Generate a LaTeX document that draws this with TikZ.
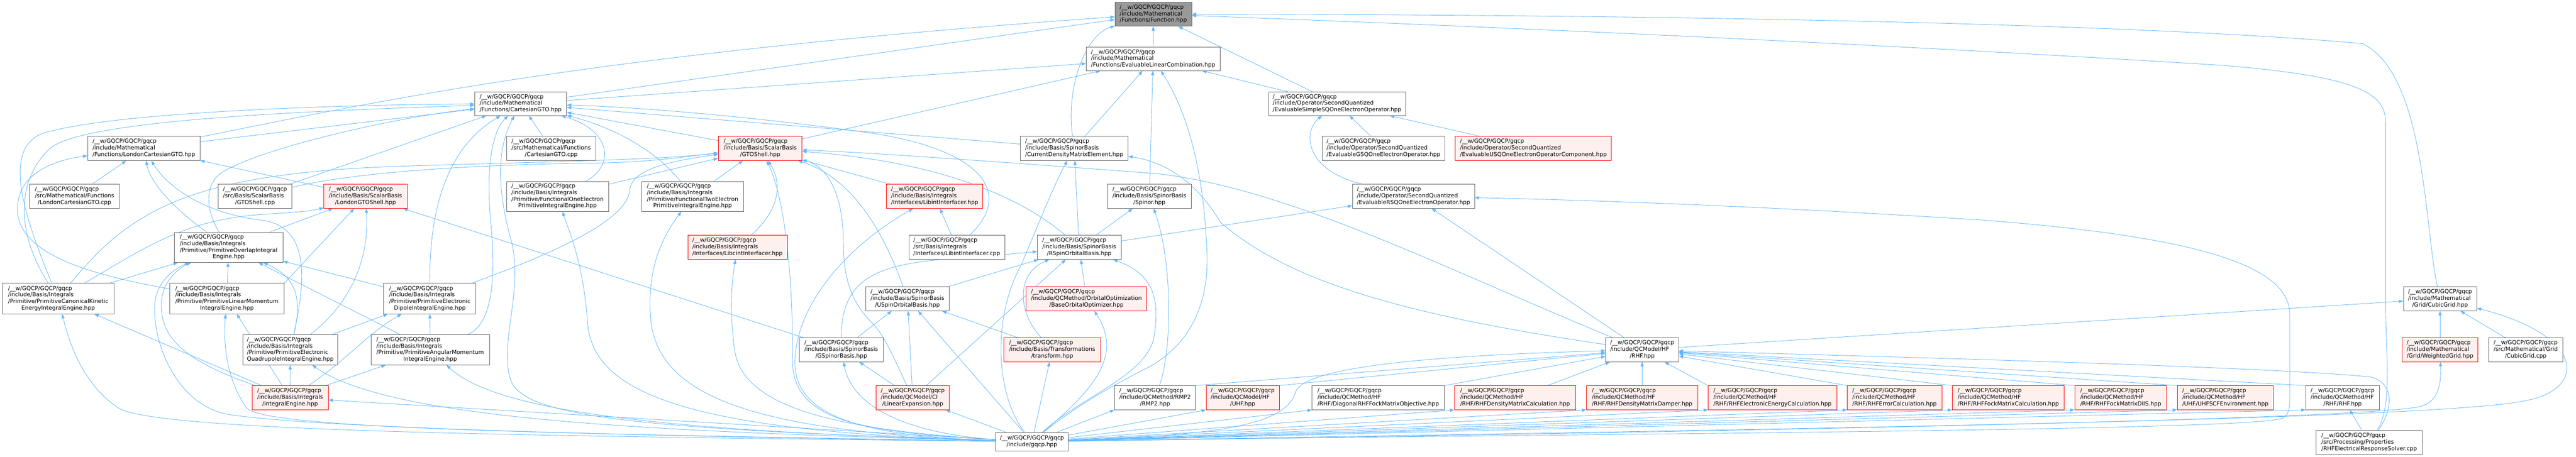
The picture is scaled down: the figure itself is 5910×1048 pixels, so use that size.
\documentclass[tikz,border=0pt]{standalone}
\usepackage{fontspec}
\setmainfont{DejaVu Sans}
\usetikzlibrary{arrows.meta}
\definecolor{ecol}{HTML}{63B8FF}
\definecolor{bcol}{HTML}{666666}
\definecolor{rfill}{HTML}{FFF0F0}
\definecolor{rbord}{HTML}{FF0000}
\definecolor{rootfill}{HTML}{999999}
\pgfdeclarelayer{bgfill}
\pgfdeclarelayer{edges}
\pgfsetlayers{bgfill,edges,main}
\newcommand\pre{/\_\_w/GQCP/GQCP/gqcp}
\newcommand\Ltwo[1]{\begin{tabular}{@{}l@{}}\pre\\\multicolumn{1}{@{}c@{}}{#1}\end{tabular}}
\newcommand\Lthree[2]{\begin{tabular}{@{}l@{}}\pre\\#1\\\multicolumn{1}{@{}c@{}}{#2}\end{tabular}}
\newcommand\Lfour[3]{\begin{tabular}{@{}l@{}}\pre\\#1\\#2\\\multicolumn{1}{@{}c@{}}{#3}\end{tabular}}
\newcommand\gnode[7]{\node[#2,minimum width=#5*0.75pt,minimum height=#6*0.75pt] (#1) at (#3,#4) {#7};}
\tikzset{
  box/.style={draw=bcol,fill=white,line width=0.75pt,inner sep=0pt,font=\fontsize{9.7}{11.25}\selectfont,text=black},
  nd/.style={box},
  rd/.style={box,draw=rbord,fill=rfill},
  root/.style={box,fill=rootfill},
  e/.style={draw=ecol,line width=0.75pt,-{Triangle[length=7.5pt,width=5.5pt]}}
}
\begin{document}
\begin{tikzpicture}[x=0.75pt,y=-0.75pt]
\useasboundingbox (0,0) rectangle (5910,1048);
\begin{pgfonlayer}{bgfill}
\fill[white] (0,0) rectangle (5910,1048);
\end{pgfonlayer}
% row 1-3
\gnode{F}{root}{2646}{32.5}{176}{55}{\Lthree{/include/Mathematical}{/Functions/Function.hpp}}
\gnode{ELC}{nd}{2645.5}{135}{307}{54}{\Lthree{/include/Mathematical}{/Functions/EvaluableLinearCombination.hpp}}
\gnode{CG}{nd}{1194.5}{238}{211}{54}{\Lthree{/include/Mathematical}{/Functions/CartesianGTO.hpp}}
\gnode{ESS}{nd}{3067.5}{238}{315}{54}{\Lthree{/include/Operator/SecondQuantized}{/EvaluableSimpleSQOneElectronOperator.hpp}}
% row 4
\gnode{LCG}{nd}{330}{340.5}{258}{55}{\Lthree{/include/Mathematical}{/Functions/LondonCartesianGTO.hpp}}
\gnode{CGcpp}{nd}{1264.5}{340.5}{205}{55}{\Lthree{/src/Mathematical/Functions}{/CartesianGTO.cpp}}
\gnode{GS}{rd}{1744}{340.5}{192}{55}{\Lthree{/include/Basis/ScalarBasis}{/GTOShell.hpp}}
\gnode{CDM}{nd}{2464.5}{340.5}{247}{55}{\Lthree{/include/Basis/SpinorBasis}{/CurrentDensityMatrixElement.hpp}}
\gnode{EGS}{nd}{3174}{340.5}{282}{55}{\Lthree{/include/Operator/SecondQuantized}{/EvaluableGSQOneElectronOperator.hpp}}
\gnode{EUS}{rd}{3518}{340.5}{358}{55}{\Lthree{/include/Operator/SecondQuantized}{/EvaluableUSQOneElectronOperatorComponent.hpp}}
% row 5
\gnode{LCGcpp}{nd}{171}{450.5}{206}{55}{\Lthree{/src/Mathematical/Functions}{/LondonCartesianGTO.cpp}}
\gnode{GScpp}{nd}{585}{450.5}{168}{55}{\Lthree{/src/Basis/ScalarBasis}{/GTOShell.cpp}}
\gnode{LGS}{rd}{838.5}{450.5}{191}{55}{\Lthree{/include/Basis/ScalarBasis}{/LondonGTOShell.hpp}}
\gnode{F1E}{nd}{1279}{450.5}{234}{69}{\Lfour{/include/Basis/Integrals}{/Primitive/FunctionalOneElectron}{PrimitiveIntegralEngine.hpp}}
\gnode{F2E}{nd}{1589}{450.5}{234}{69}{\Lfour{/include/Basis/Integrals}{/Primitive/FunctionalTwoElectron}{PrimitiveIntegralEngine.hpp}}
\gnode{LI}{rd}{2144.5}{450.5}{221}{55}{\Lthree{/include/Basis/Integrals}{/Interfaces/LibintInterfacer.hpp}}
\gnode{SP}{nd}{2637}{450.5}{192}{55}{\Lthree{/include/Basis/SpinorBasis}{/Spinor.hpp}}
\gnode{ERS}{nd}{3243}{450.5}{280}{55}{\Lthree{/include/Operator/SecondQuantized}{/EvaluableRSQOneElectronOperator.hpp}}
% row 6
\gnode{POV}{nd}{524.5}{567.5}{249}{69}{\Lfour{/include/Basis/Integrals}{/Primitive/PrimitiveOverlapIntegral}{Engine.hpp}}
\gnode{LC}{rd}{1692}{567.5}{228}{55}{\Lthree{/include/Basis/Integrals}{/Interfaces/LibcintInterfacer.hpp}}
\gnode{LIcpp}{nd}{2195}{567.5}{220}{55}{\Lthree{/src/Basis/Integrals}{/Interfaces/LibintInterfacer.cpp}}
\gnode{RSB}{nd}{2476}{567.5}{192}{55}{\Lthree{/include/Basis/SpinorBasis}{/RSpinOrbitalBasis.hpp}}
% row 7
\gnode{PKE}{nd}{133.5}{685}{257}{70}{\Lfour{/include/Basis/Integrals}{/Primitive/PrimitiveCanonicalKinetic}{EnergyIntegralEngine.hpp}}
\gnode{PLM}{nd}{520.5}{685}{263}{70}{\Lfour{/include/Basis/Integrals}{/Primitive/PrimitiveLinearMomentum}{IntegralEngine.hpp}}
\gnode{PED}{nd}{986}{685}{212}{70}{\Lfour{/include/Basis/Integrals}{/Primitive/PrimitiveElectronic}{DipoleIntegralEngine.hpp}}
\gnode{USB}{nd}{2082}{685.5}{192}{55}{\Lthree{/include/Basis/SpinorBasis}{/USpinOrbitalBasis.hpp}}
\gnode{BOO}{rd}{2492.5}{685.5}{277}{55}{\Lthree{/include/QCMethod/OrbitalOptimization}{/BaseOrbitalOptimizer.hpp}}
\gnode{CUB}{nd}{5598}{685.5}{168}{55}{\Lthree{/include/Mathematical}{/Grid/CubicGrid.hpp}}
% row 8
\gnode{PEQ}{nd}{666}{802.5}{218}{69}{\Lfour{/include/Basis/Integrals}{/Primitive/PrimitiveElectronic}{QuadrupoleIntegralEngine.hpp}}
\gnode{PAM}{nd}{987}{802.5}{272}{69}{\Lfour{/include/Basis/Integrals}{/Primitive/PrimitiveAngularMomentum}{IntegralEngine.hpp}}
\gnode{GSB}{nd}{1930}{802.5}{192}{55}{\Lthree{/include/Basis/SpinorBasis}{/GSpinorBasis.hpp}}
\gnode{TR}{rd}{2414}{802.5}{222}{55}{\Lthree{/include/Basis/Transformations}{/transform.hpp}}
\gnode{QRHF}{nd}{3767.5}{802.5}{167}{55}{\Lthree{/include/QCModel/HF}{/RHF.hpp}}
\gnode{WG}{rd}{5598}{802.5}{174}{55}{\Lthree{/include/Mathematical}{/Grid/WeightedGrid.hpp}}
\gnode{CUBcpp}{nd}{5794.5}{802.5}{171}{55}{\Lthree{/src/Mathematical/Grid}{/CubicGrid.cpp}}
% row 9
\gnode{IE}{rd}{665.5}{912.5}{175}{55}{\Lthree{/include/Basis/Integrals}{/IntegralEngine.hpp}}
\gnode{LE}{rd}{2094}{912.5}{168}{55}{\Lthree{/include/QCModel/CI}{/LinearExpansion.hpp}}
\gnode{RMP2}{nd}{2650}{912.5}{186}{55}{\Lthree{/include/QCMethod/RMP2}{/RMP2.hpp}}
\gnode{UHF}{rd}{2851}{912.5}{168}{55}{\Lthree{/include/QCModel/HF}{/UHF.hpp}}
\gnode{DRF}{nd}{3162}{912.5}{304}{55}{\Lthree{/include/QCMethod/HF}{/RHF/DiagonalRHFFockMatrixObjective.hpp}}
\gnode{RDC}{rd}{3476}{912.5}{278}{55}{\Lthree{/include/QCMethod/HF}{/RHF/RHFDensityMatrixCalculation.hpp}}
\gnode{RDD}{rd}{3767.5}{912.5}{255}{55}{\Lthree{/include/QCMethod/HF}{/RHF/RHFDensityMatrixDamper.hpp}}
\gnode{REE}{rd}{4066.5}{912.5}{295}{55}{\Lthree{/include/QCMethod/HF}{/RHF/RHFElectronicEnergyCalculation.hpp}}
\gnode{REC}{rd}{4346.5}{912.5}{217}{55}{\Lthree{/include/QCMethod/HF}{/RHF/RHFErrorCalculation.hpp}}
\gnode{RFC}{rd}{4607.5}{912.5}{257}{55}{\Lthree{/include/QCMethod/HF}{/RHF/RHFFockMatrixCalculation.hpp}}
\gnode{RFD}{rd}{4865.5}{912.5}{211}{55}{\Lthree{/include/QCMethod/HF}{/RHF/RHFFockMatrixDIIS.hpp}}
\gnode{USCF}{rd}{5105.5}{912.5}{221}{55}{\Lthree{/include/QCMethod/HF}{/UHF/UHFSCFEnvironment.hpp}}
\gnode{MRHF}{nd}{5374.5}{912.5}{169}{55}{\Lthree{/include/QCMethod/HF}{/RHF/RHF.hpp}}
% row 10
\gnode{GQ}{nd}{2367.5}{1013.5}{167}{43}{\Ltwo{/include/gqcp.hpp}}
\gnode{RER}{nd}{5435.5}{1015.5}{243}{55}{\Lthree{/src/Processing/Properties}{/RHFElectricalResponseSolver.cpp}}

\begin{pgfonlayer}{edges}
% into F
\draw[e] (ELC) -- (F);
\draw[e] (ESS) -- (F);
\draw[e] (CDM) .. controls (2445,200) and (2490,80) .. (F);
\draw[e] (CG) -- (F);
\draw[e] (LCG) .. controls (900,225) and (1400,120) .. (F);
\draw[e] (CUB) .. controls (5562,520) and (5565,170) .. (5420,100) .. controls (4800,45) and (3500,33) .. (F);
\draw[e] (RER) .. controls (5490,930) and (5473,820) .. (5473,680) -- (5473,280) .. controls (5473,210) and (5400,175) .. (5100,150) .. controls (4300,100) and (3400,60) .. (F);
% into ELC
\draw[e] (CG) -- (ELC);
\draw[e] (ESS) -- (ELC);
\draw[e] (GS) -- (ELC);
\draw[e] (CDM) -- (ELC);
\draw[e] (SP) -- (ELC);
\draw[e] (GQ) .. controls (2470,930) and (2560,880) .. (2640,840) .. controls (2760,770) and (2775,650) .. (2768,560) .. controls (2760,380) and (2720,250) .. (ELC);
% into CG
\draw[e] (LCG) -- (CG);
\draw[e] (PKE) .. controls (40,460) and (5,320) .. (120,300) .. controls (300,255) and (800,240) .. (CG);
\draw[e] (PKE) .. controls (40,540) and (35,420) .. (110,345) .. controls (170,275) and (700,255) .. (CG);
\draw[e] (POV) .. controls (470,480) and (470,420) .. (510,395) .. controls (600,340) and (900,270) .. (CG);
\draw[e] (GScpp) -- (CG);
\draw[e] (PED) .. controls (985,450) and (1040,330) .. (CG);
\draw[e] (PAM) .. controls (1140,740) and (1135,600) .. (1125,500) .. controls (1115,380) and (1130,300) .. (CG);
\draw[e] (GQ) .. controls (1500,985) and (1220,960) .. (1175,880) .. controls (1140,800) and (1200,680) .. (1175,560) .. controls (1150,470) and (1130,360) .. (CG);
\draw[e] (CGcpp) -- (CG);
\draw[e] (F2E) .. controls (1500,340) and (1400,290) .. (CG);
\draw[e] (F1E) .. controls (1410,380) and (1405,300) .. (CG);
\draw[e] (GS) -- (CG);
\draw[e] (LIcpp) .. controls (2330,440) and (2250,335) .. (1960,300) .. controls (1700,265) and (1450,245) .. (CG);
\draw[e] (CDM) -- (CG);
% into GS
\draw[e] (GScpp) .. controls (800,398) and (1050,378) .. (1370,374) .. controls (1500,372) and (1580,358) .. (GS);
\draw[e] (PKE) .. controls (300,480) and (440,400) .. (900,382) .. controls (1200,372) and (1500,368) .. (GS);
\draw[e] (F1E) -- (GS);
\draw[e] (F2E) -- (GS);
\draw[e] (LI) -- (GS);
\draw[e] (LC) .. controls (1790,480) and (1795,420) .. (GS);
\draw[e] (USB) .. controls (2030,540) and (1960,410) .. (GS);
\draw[e] (RSB) .. controls (2340,450) and (2150,370) .. (GS);
\draw[e] (LE) .. controls (2050,820) and (2030,770) .. (2000,740) .. controls (1960,700) and (1935,650) .. (1935,560) .. controls (1935,430) and (1890,380) .. (GS);
\draw[e] (GQ) .. controls (1950,990) and (1815,960) .. (1818,820) .. controls (1820,640) and (1800,450) .. (GS);
\draw[e] (QRHF) .. controls (3300,610) and (2950,430) .. (2650,398) .. controls (2300,372) and (2000,350) .. (GS);
\draw[e] (PED) .. controls (1300,570) and (1440,500) .. (1445,435) .. controls (1450,385) and (1550,368) .. (GS);
% into LCG
\draw[e] (LCGcpp) -- (LCG);
\draw[e] (LGS) -- (LCG);
\draw[e] (POV) .. controls (400,480) and (345,420) .. (LCG);
\draw[e] (PLM) .. controls (200,630) and (40,580) .. (40,480) .. controls (40,400) and (120,368) .. (LCG);
\draw[e] (PEQ) .. controls (700,650) and (715,520) .. (600,505) .. controls (470,490) and (385,430) .. (LCG);
% into LGS
\draw[e] (PEQ) .. controls (800,700) and (848,600) .. (LGS);
\draw[e] (PKE) .. controls (330,570) and (420,505) .. (600,492) .. controls (680,487) and (715,484) .. (LGS);
\draw[e] (POV) -- (LGS);
\draw[e] (PLM.north east) -- (LGS);
\draw[e] (GSB) -- (LGS);
% into POV
\draw[e] (PKE) -- (POV);
\draw[e] (PLM) -- (POV);
\draw[e] (PED) -- (POV);
\draw[e] (PEQ) .. controls (690,700) and (690,640) .. (POV);
\draw[e] (PAM) -- (POV);
\draw[e] (IE) .. controls (430,830) and (370,780) .. (370,700) .. controls (370,640) and (420,610) .. (POV);
\draw[e] (GQ) .. controls (1400,1000) and (700,980) .. (520,950) .. controls (400,925) and (350,780) .. (355,700) .. controls (358,640) and (410,612) .. (POV);
% into PKE, PLM
\draw[e] (IE) -- (PKE);
\draw[e] (GQ) .. controls (1200,1000) and (350,990) .. (270,935) .. controls (190,880) and (160,790) .. (PKE);
\draw[e] (IE) -- (PLM);
\draw[e] (GQ) .. controls (1300,995) and (600,985) .. (565,935) .. controls (520,870) and (512,790) .. (PLM);
% into PED, PEQ, PAM, IE
\draw[e] (PEQ) -- (PED);
\draw[e] (PAM) -- (PED);
\draw[e] (IE) .. controls (790,830) and (850,760) .. (PED);
\draw[e] (IE) -- (PEQ);
\draw[e] (GQ) .. controls (1500,990) and (900,965) .. (PEQ);
\draw[e] (IE) -- (PAM);
\draw[e] (GQ) .. controls (1600,990) and (1150,955) .. (PAM);
\draw[e] (GQ) -- (IE);
% F1E, F2E, LC, LI
\draw[e] (GQ) .. controls (1600,990) and (1360,910) .. (1348,740) .. controls (1338,600) and (1305,530) .. (F1E);
\draw[e] (GQ) .. controls (1700,990) and (1500,900) .. (1492,720) .. controls (1485,600) and (1530,530) .. (F2E);
\draw[e] (GQ) .. controls (1900,985) and (1700,930) .. (1685,800) .. controls (1672,700) and (1680,640) .. (LC);
\draw[e] (LIcpp) -- (LI);
\draw[e] (GQ) .. controls (1960,1000) and (1815,950) .. (1824,820) .. controls (1832,690) and (1950,560) .. (LI);
% SP, CDM
\draw[e] (RSB) -- (SP);
\draw[e] (RMP2) .. controls (2690,800) and (2690,600) .. (SP);
\draw[e] (RSB) -- (CDM);
\draw[e] (GQ) .. controls (2280,900) and (2280,720) .. (2342,610) .. controls (2380,520) and (2420,420) .. (CDM);
% RSB
\draw[e] (USB) -- (RSB);
\draw[e] (BOO) -- (RSB);
\draw[e] (GSB) .. controls (1930,580) and (2100,605) .. (RSB);
\draw[e] (TR) .. controls (2330,710) and (2335,625) .. (RSB);
\draw[e] (LE) -- (RSB);
\draw[e] (GQ) .. controls (2480,910) and (2635,860) .. (2648,770) .. controls (2660,690) and (2650,630) .. (RSB);
\draw[e] (RSB) -- (ERS);
% USB, BOO, GSB, TR, LE
\draw[e] (GSB) -- (USB);
\draw[e] (TR) -- (USB);
\draw[e] (LE) -- (USB);
\draw[e] (GQ) -- (USB);
\draw[e] (GQ) .. controls (2500,900) and (2580,820) .. (BOO);
\draw[e] (LE) -- (GSB);
\draw[e] (GQ) .. controls (2150,1000) and (1960,960) .. (GSB);
\draw[e] (GQ) -- (TR);
\draw[e] (GQ) -- (LE);
% operators
\draw[e] (ERS) .. controls (2990,390) and (2990,300) .. (ESS);
\draw[e] (EGS) -- (ESS);
\draw[e] (EUS) -- (ESS);
% QRHF
\draw[e] (QRHF) -- (ERS);
\draw[e] (QRHF) .. controls (3200,720) and (2950,640) .. (2800,510) .. controls (2765,450) and (2700,375) .. (CDM);
\draw[e] (QRHF) -- (CUB);
\draw[e] (RMP2.north east) -- (QRHF);
\draw[e] (UHF.north east) -- (QRHF);
\draw[e] (DRF.north east) -- (QRHF);
\draw[e] (RDC) -- (QRHF);
\draw[e] (RDD) -- (QRHF);
\draw[e] (REE.north west) -- (QRHF);
\draw[e] (REC.north west) -- (QRHF);
\draw[e] (RFC.north west) -- (QRHF);
\draw[e] (RFD.north west) -- (QRHF);
\draw[e] (USCF.north west) -- (QRHF);
\draw[e] (MRHF.north west) -- (QRHF);
\draw[e] (RER) .. controls (5490,940) and (5495,880) .. (5440,865) .. controls (5200,840) and (4200,815) .. (QRHF);
\draw[e] (RER) -- (MRHF);
% gqcp to the right
\draw[e] (GQ) -- (RMP2.south west);
\draw[e] (GQ) -- (UHF.south west);
\draw[e] (GQ) -- (DRF.south west);
\draw[e] (GQ) -- (RDC.south west);
\draw[e] (GQ) -- (RDD.south west);
\draw[e] (GQ) -- (REE.south west);
\draw[e] (GQ) -- (REC.south west);
\draw[e] (GQ) -- (RFC.south west);
\draw[e] (GQ) -- (RFD.south west);
\draw[e] (GQ) -- (USCF.south west);
\draw[e] (GQ) -- (MRHF.south west);
\draw[e] (GQ) .. controls (2800,998) and (2950,975) .. (2972,900) .. controls (2990,840) and (3300,815) .. (QRHF);
\draw[e] (GQ) .. controls (4000,985) and (5600,965) .. (5800,918) .. controls (5935,890) and (5930,770) .. (CUB);
\draw[e] (GQ) .. controls (4000,990) and (5440,962) .. (5555,932) .. controls (5600,918) and (5600,870) .. (WG);
\draw[e] (GQ) .. controls (3500,995) and (5150,990) .. (5235,960) .. controls (5255,950) and (5253,930) .. (5253,900) -- (5253,720) .. controls (5253,600) and (5000,540) .. (4550,505) .. controls (4000,470) and (3600,458) .. (ERS);
% grid
\draw[e] (WG) -- (CUB);
\draw[e] (CUBcpp) -- (CUB);
\end{pgfonlayer}
\end{tikzpicture}
\end{document}
